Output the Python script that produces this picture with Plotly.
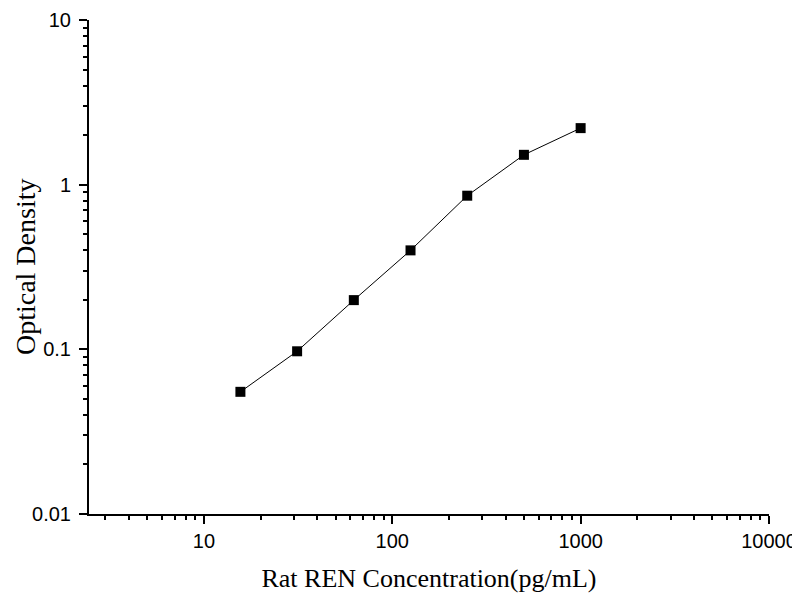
import plotly.graph_objects as go

# standard curve: concentration (pg/mL) vs optical density
concentration = [15.625, 31.25, 62.5, 125, 250, 500, 1000]
optical_density = [0.0552, 0.0973, 0.199, 0.399, 0.857, 1.518, 2.205]

x_tick_vals = [10, 100, 1000, 10000]
x_tick_text = ["10", "100", "1000", "10000"]
y_tick_vals = [0.01, 0.1, 1, 10]
y_tick_text = ["0.01", "0.1", "1", "10"]

fig = go.Figure()

fig.add_trace(go.Scatter(
    x=concentration,
    y=optical_density,
    mode="lines+markers",
    line=dict(color="black", width=1),
    marker=dict(symbol="square", size=10, color="black"),
    showlegend=False
))

axis_common = dict(
    type="log",
    automargin=False,
    showgrid=False,
    zeroline=False,
    showline=True,
    linecolor="black",
    linewidth=2,
    ticks="outside",
    ticklen=8,
    tickwidth=2,
    tickcolor="black",
    ticklabeloverflow="allow",
    tickfont=dict(family="Liberation Sans, Arial", size=20, color="black"),
    minor=dict(ticks="outside", ticklen=4, tickwidth=2, tickcolor="black",
               dtick="D1", showgrid=False),
)

# page has an 8px body margin, so the figure is a bit smaller than the window
fig.update_layout(
    width=792, height=592,
    margin=dict(l=81, r=31, t=12, b=86),
    plot_bgcolor="white",
    paper_bgcolor="white",
    xaxis=dict(
        axis_common,
        range=[0.39, 4],
        tickvals=x_tick_vals,
        ticktext=x_tick_text,
        ticklabelstandoff=0,
        title=dict(text="Rat REN Concentration(pg/mL)",
                   font=dict(family="Liberation Serif, Times New Roman", size=26, color="black"),
                   standoff=18),
    ),
    yaxis=dict(
        axis_common,
        range=[-2, 1],
        tickvals=y_tick_vals,
        ticktext=y_tick_text,
        ticklabelstandoff=4,
    ),
)

# y title placed by hand, close to the left edge as in the original
fig.add_annotation(
    text="Optical Density",
    xref="paper", yref="paper",
    x=-0.094, y=0.5,
    xanchor="center", yanchor="middle",
    textangle=-90,
    showarrow=False,
    font=dict(family="Liberation Serif, Times New Roman", size=28, color="black"),
)

fig.write_html("out.html")
